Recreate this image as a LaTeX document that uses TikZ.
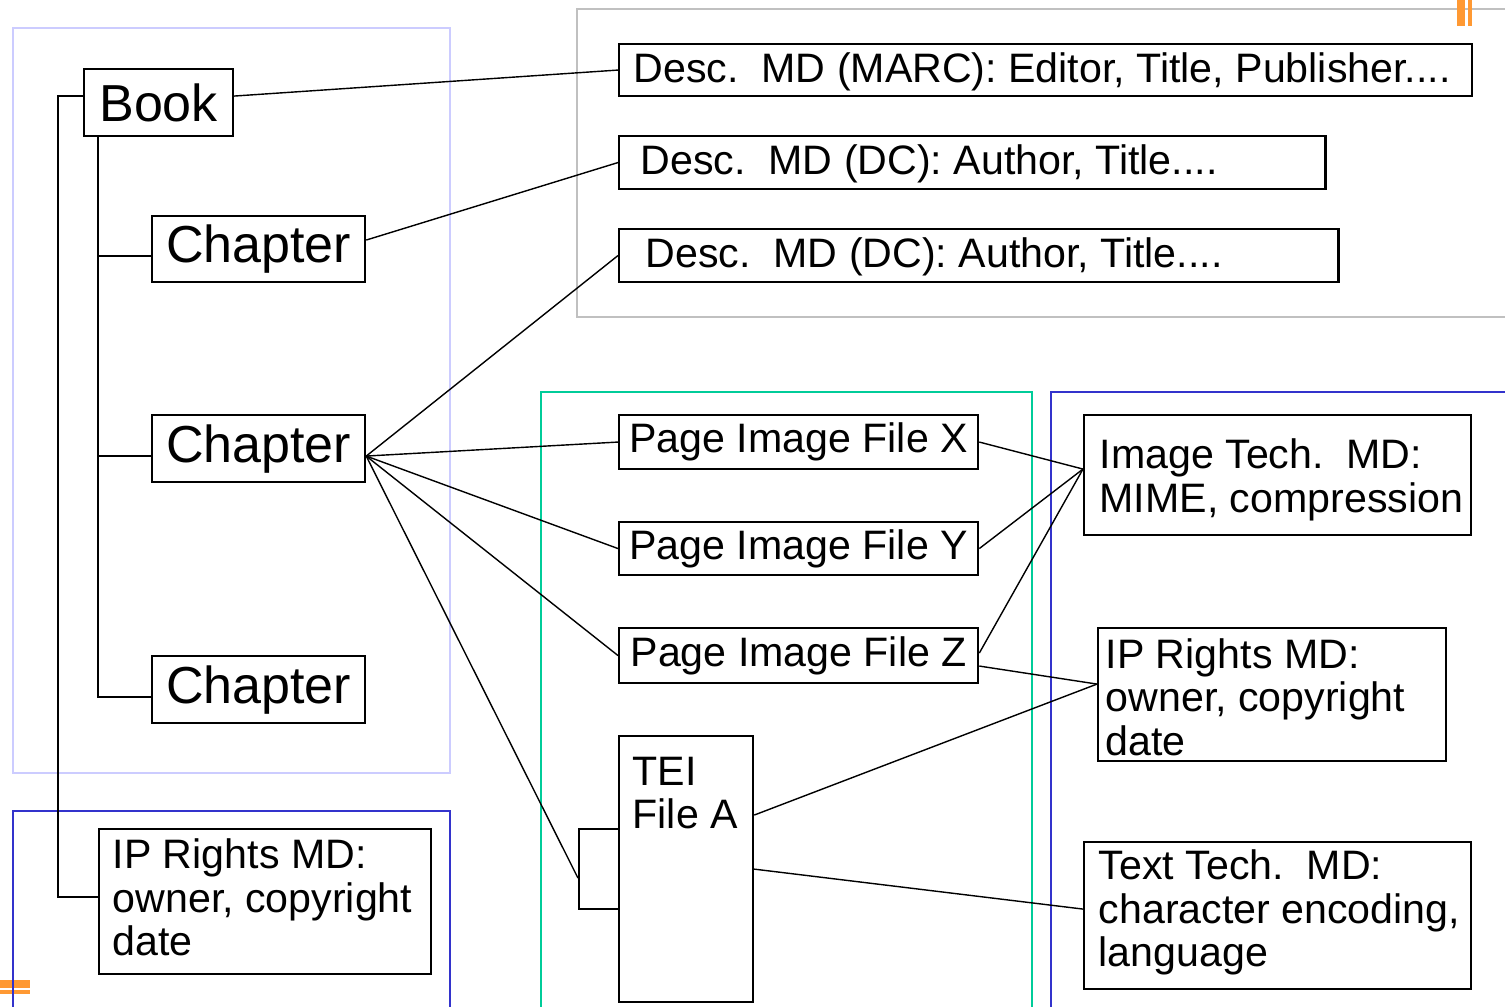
\documentclass[tikz,border=0pt]{standalone}
\usepackage{fontspec}
\setmainfont{Liberation Sans}
\usepackage{tikz}
\usetikzlibrary{calc,positioning}
\definecolor{lavframe}{RGB}{204,204,255}
\definecolor{grayframe}{RGB}{192,192,192}
\definecolor{tealframe}{RGB}{0,204,153}
\definecolor{blueframe}{RGB}{51,51,204}
\definecolor{marker}{RGB}{255,153,51}
\def\mdfont{\fontsize{11.7}{12.4}\selectfont}
\def\bookfont{\fontsize{14.8}{17}\selectfont}
\def\mdbox{\node[draw=black,line width=0.6pt,inner sep=0pt,anchor=north west,font=\mdfont]}
\def\mdtext{\node[inner sep=0pt,align=left,font=\mdfont]}

\begin{document}
\begin{tikzpicture}[x=0.01cm,y=-0.01cm,link/.style={line width=0.4pt},tree/.style={line width=0.6pt},frame/.style={line width=0.6pt}]
\useasboundingbox (0,0) rectangle (1505,1007);
\draw[frame,lavframe] (13,28) rectangle (450,773);
\draw[frame,grayframe] (1505,9) -| (577,317) -- (1505,317);
\draw[frame,tealframe] (541,1007) |- (1032,392) -- (1032,1007);
\draw[frame,blueframe] (1051,1007) |- (1505,392);
\fill[marker] (0,980) rectangle (30,988);
\fill[marker] (0,990) rectangle (30,994);
\draw[frame,blueframe] (13,1007) |- (450,811) -- (450,1007);
\fill[marker] (1457,0) rectangle (1465,26);
\fill[marker] (1468,0) rectangle (1472,26);

\mdbox (book) at (83,68) [minimum width=1.49cm,minimum height=0.67cm,font=\bookfont] {Book};
\mdbox (ch1) at (151,215) [minimum width=2.13cm,minimum height=0.66cm,font=\bookfont] {Chapter};
\mdbox (ch2) at (151,414) [minimum width=2.13cm,minimum height=0.67cm,font=\bookfont] {Chapter};
\mdbox (ch3) at (151,655) [minimum width=2.13cm,minimum height=0.67cm,font=\bookfont] {Chapter};
\mdbox (iplft) at (98,828) [minimum width=3.32cm,minimum height=1.45cm] {};
\mdtext (iplft-t) [right=0.14cm of iplft.west,yshift=0.04cm] {IP Rights MD:\\owner, copyright\\date};

\mdbox (desc1) at (618,43) [minimum width=8.52cm,minimum height=0.52cm] {};
\mdtext (desc1-t) [right=0.15cm of desc1.west,yshift=-0.015cm] {Desc.\ \ MD (MARC): Editor, Title, Publisher....};
\mdbox (desc2) at (618,135) [minimum width=7.06cm,minimum height=0.53cm] {};
\mdtext (desc2-t) [right=0.22cm of desc2.west,yshift=-0.015cm] {Desc.\ \ MD (DC): Author, Title....};
\mdbox (desc3) at (618,228) [minimum width=7.19cm,minimum height=0.53cm] {};
\mdtext (desc3-t) [right=0.27cm of desc3.west,yshift=-0.015cm] {Desc.\ \ MD (DC): Author, Title....};

\mdbox (pgx) at (618,414) [minimum width=3.59cm,minimum height=0.54cm] {Page Image File X};
\mdbox (pgy) at (618,521) [minimum width=3.59cm,minimum height=0.53cm] {Page Image File Y};
\mdbox (pgz) at (618,627) [minimum width=3.59cm,minimum height=0.55cm] {Page Image File Z};
\mdbox (tei) at (618,735) [minimum width=1.34cm,minimum height=2.66cm] {};
\mdtext (tei-t) [below right=0.21cm and 0.14cm of tei.north west] {TEI\\File A};
\mdbox (brk) at (578,828) [minimum width=0.40cm,minimum height=0.80cm] {};

\mdbox (imgtech) at (1083,414) [minimum width=3.87cm,minimum height=1.20cm] {};
\mdtext (imgtech-t) [right=0.16cm of imgtech.west,yshift=-0.045cm] {Image Tech.\ \ MD:\\MIME, compression};
\mdbox (iprgt) at (1097,627) [minimum width=3.48cm,minimum height=1.33cm] {};
\mdtext (iprgt-t) [right=0.08cm of iprgt.west,yshift=-0.025cm] {IP Rights MD:\\owner, copyright\\date};
\mdbox (txttech) at (1083,841) [minimum width=3.87cm,minimum height=1.47cm] {};
\mdtext (txttech-t) [right=0.15cm of txttech.west,yshift=0.03cm] {Text Tech.\ \ MD:\\character encoding,\\language};

\draw[tree] ([yshift=0.065cm]book.west) -- ++(-0.25cm,0) |- ([yshift=0.05cm]iplft.west);
\foreach \c in {ch1,ch2,ch3}
  \draw[tree] ([xshift=0.15cm]book.south west) |- ([yshift=-0.07cm]\c.west);
\draw[link] ([yshift=0.065cm]book.east) -- (desc1.west);
\draw[link] ([yshift=0.09cm]ch1.east) -- (desc2.west);
\coordinate (hub) at ([yshift=-0.075cm]ch2.east);
\foreach \t in {desc3,pgx,pgy,pgz}
  \draw[link] (hub) -- (\t.west);
\draw[link] (hub) -- ([yshift=-0.09cm]brk.west);
\coordinate (imgin) at ([yshift=0.06cm]imgtech.west);
\coordinate (ipin) at ([yshift=0.105cm]iprgt.west);
\draw[link] (pgx.east) -- (imgin);
\draw[link] (pgy.east) -- (imgin);
\draw[link] ([yshift=0.025cm]pgz.east) -- (imgin);
\draw[link] ([yshift=-0.105cm]pgz.east) -- (ipin);
\draw[link] ([yshift=0.54cm]tei.east) -- (ipin);
\draw[link] (tei.east) -- ([yshift=0.065cm]txttech.west);
\end{tikzpicture}
\end{document}
